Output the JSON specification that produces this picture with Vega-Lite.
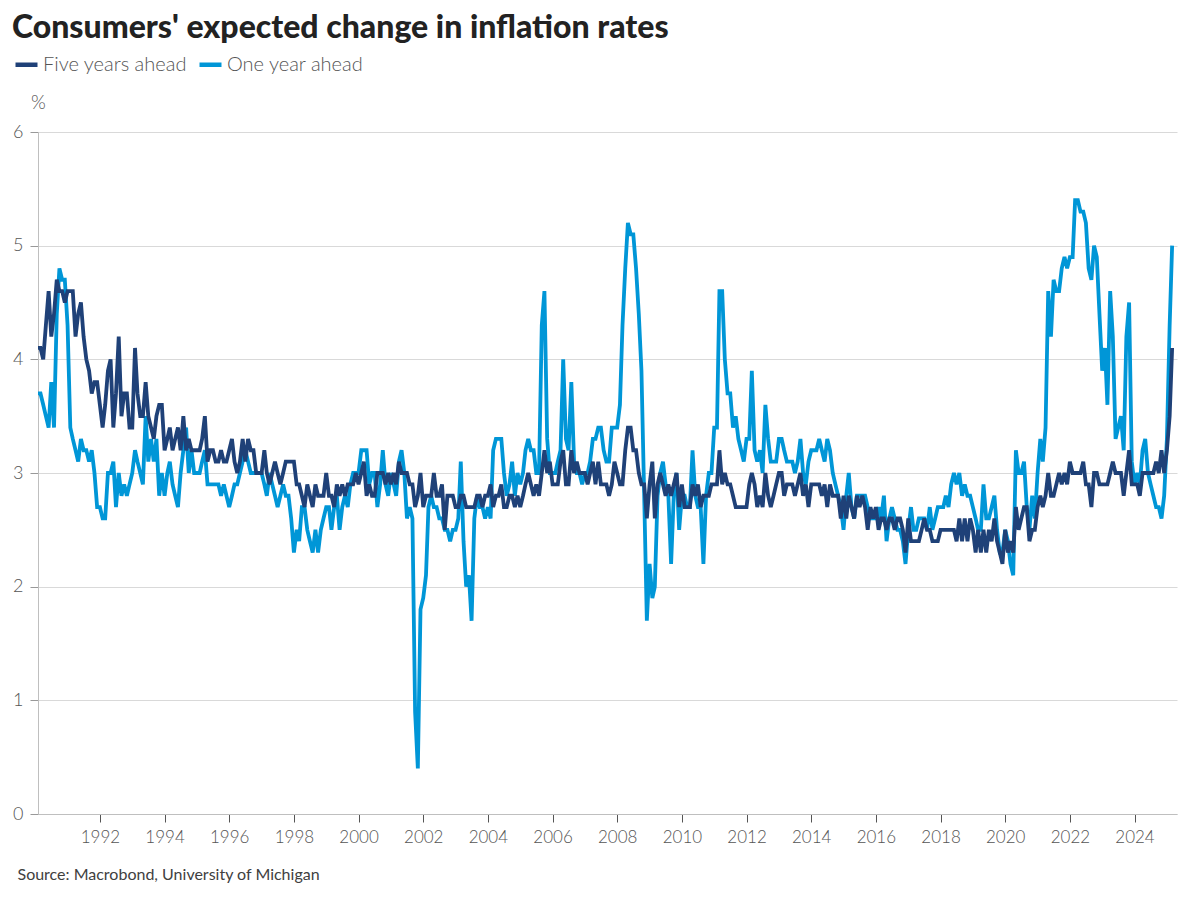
{
"$schema":"https://vega.github.io/schema/vega-lite/v6.json",
"width":1139,"height":682,
"autosize":{"type":"none"},
"padding":{"left":38,"top":132,"right":23,"bottom":86},
"background":"#ffffff",
"title":{"text":"Consumers' expected change in inflation rates","anchor":"start","frame":"group","orient":"top","offset":0,"dx":-26,"dy":19,"font":"Lato","fontSize":32,"fontWeight":900,"color":"#222222","baseline":"alphabetic"},
"datasets":{
"five":[
{"date":"1990-02","value":4.1},{"date":"1990-03","value":4.1},{"date":"1990-04","value":4.0},{"date":"1990-05","value":4.3},{"date":"1990-06","value":4.6},{"date":"1990-07","value":4.2},{"date":"1990-08","value":4.4},{"date":"1990-09","value":4.7},{"date":"1990-10","value":4.6},{"date":"1990-11","value":4.6},{"date":"1990-12","value":4.5},
{"date":"1991-01","value":4.6},{"date":"1991-02","value":4.6},{"date":"1991-03","value":4.6},{"date":"1991-04","value":4.2},{"date":"1991-05","value":4.4},{"date":"1991-06","value":4.5},{"date":"1991-07","value":4.2},{"date":"1991-08","value":4.0},{"date":"1991-09","value":3.9},{"date":"1991-10","value":3.7},{"date":"1991-11","value":3.8},{"date":"1991-12","value":3.8},
{"date":"1992-01","value":3.6},{"date":"1992-02","value":3.4},{"date":"1992-03","value":3.6},{"date":"1992-04","value":3.9},{"date":"1992-05","value":4.0},{"date":"1992-06","value":3.4},{"date":"1992-07","value":3.7},{"date":"1992-08","value":4.2},{"date":"1992-09","value":3.5},{"date":"1992-10","value":3.7},{"date":"1992-11","value":3.7},{"date":"1992-12","value":3.4},
{"date":"1993-01","value":3.4},{"date":"1993-02","value":4.1},{"date":"1993-03","value":3.7},{"date":"1993-04","value":3.5},{"date":"1993-05","value":3.5},{"date":"1993-06","value":3.8},{"date":"1993-07","value":3.5},{"date":"1993-08","value":3.4},{"date":"1993-09","value":3.3},{"date":"1993-10","value":3.5},{"date":"1993-11","value":3.6},{"date":"1993-12","value":3.6},
{"date":"1994-01","value":3.2},{"date":"1994-02","value":3.3},{"date":"1994-03","value":3.4},{"date":"1994-04","value":3.2},{"date":"1994-05","value":3.3},{"date":"1994-06","value":3.4},{"date":"1994-07","value":3.2},{"date":"1994-08","value":3.5},{"date":"1994-09","value":3.2},{"date":"1994-10","value":3.3},{"date":"1994-11","value":3.2},{"date":"1994-12","value":3.2},
{"date":"1995-01","value":3.2},{"date":"1995-02","value":3.2},{"date":"1995-03","value":3.3},{"date":"1995-04","value":3.5},{"date":"1995-05","value":3.1},{"date":"1995-06","value":3.2},{"date":"1995-07","value":3.2},{"date":"1995-08","value":3.1},{"date":"1995-09","value":3.1},{"date":"1995-10","value":3.2},{"date":"1995-11","value":3.1},{"date":"1995-12","value":3.1},
{"date":"1996-01","value":3.2},{"date":"1996-02","value":3.3},{"date":"1996-03","value":3.1},{"date":"1996-04","value":3.0},{"date":"1996-05","value":3.1},{"date":"1996-06","value":3.3},{"date":"1996-07","value":3.1},{"date":"1996-08","value":3.3},{"date":"1996-09","value":3.2},{"date":"1996-10","value":3.2},{"date":"1996-11","value":3.0},{"date":"1996-12","value":3.0},
{"date":"1997-01","value":3.0},{"date":"1997-02","value":3.2},{"date":"1997-03","value":3.0},{"date":"1997-04","value":2.9},{"date":"1997-05","value":3.0},{"date":"1997-06","value":3.1},{"date":"1997-07","value":3.0},{"date":"1997-08","value":2.9},{"date":"1997-09","value":3.0},{"date":"1997-10","value":3.1},{"date":"1997-11","value":3.1},{"date":"1997-12","value":3.1},
{"date":"1998-01","value":3.1},{"date":"1998-02","value":2.9},{"date":"1998-03","value":2.9},{"date":"1998-04","value":2.8},{"date":"1998-05","value":2.7},{"date":"1998-06","value":2.9},{"date":"1998-07","value":2.8},{"date":"1998-08","value":2.7},{"date":"1998-09","value":2.9},{"date":"1998-10","value":2.8},{"date":"1998-11","value":2.8},{"date":"1998-12","value":2.8},
{"date":"1999-01","value":3.0},{"date":"1999-02","value":2.8},{"date":"1999-03","value":2.8},{"date":"1999-04","value":2.7},{"date":"1999-05","value":2.9},{"date":"1999-06","value":2.8},{"date":"1999-07","value":2.9},{"date":"1999-08","value":2.8},{"date":"1999-09","value":2.9},{"date":"1999-10","value":2.9},{"date":"1999-11","value":2.9},{"date":"1999-12","value":3.0},
{"date":"2000-01","value":2.9},{"date":"2000-02","value":3.0},{"date":"2000-03","value":3.1},{"date":"2000-04","value":2.8},{"date":"2000-05","value":2.9},{"date":"2000-06","value":2.8},{"date":"2000-07","value":2.8},{"date":"2000-08","value":3.0},{"date":"2000-09","value":3.0},{"date":"2000-10","value":3.0},{"date":"2000-11","value":2.9},{"date":"2000-12","value":3.0},
{"date":"2001-01","value":2.9},{"date":"2001-02","value":3.0},{"date":"2001-03","value":2.9},{"date":"2001-04","value":3.1},{"date":"2001-05","value":3.0},{"date":"2001-06","value":3.0},{"date":"2001-07","value":3.0},{"date":"2001-08","value":2.9},{"date":"2001-09","value":2.9},{"date":"2001-10","value":2.7},{"date":"2001-11","value":2.8},{"date":"2001-12","value":3.0},
{"date":"2002-01","value":2.7},{"date":"2002-02","value":2.8},{"date":"2002-03","value":2.8},{"date":"2002-04","value":2.8},{"date":"2002-05","value":3.0},{"date":"2002-06","value":2.8},{"date":"2002-07","value":2.8},{"date":"2002-08","value":2.9},{"date":"2002-09","value":2.5},{"date":"2002-10","value":2.8},{"date":"2002-11","value":2.8},{"date":"2002-12","value":2.8},
{"date":"2003-01","value":2.7},{"date":"2003-02","value":2.7},{"date":"2003-03","value":2.8},{"date":"2003-04","value":2.8},{"date":"2003-05","value":2.7},{"date":"2003-06","value":2.7},{"date":"2003-07","value":2.7},{"date":"2003-08","value":2.7},{"date":"2003-09","value":2.8},{"date":"2003-10","value":2.8},{"date":"2003-11","value":2.7},{"date":"2003-12","value":2.8},
{"date":"2004-01","value":2.8},{"date":"2004-02","value":2.9},{"date":"2004-03","value":2.7},{"date":"2004-04","value":2.8},{"date":"2004-05","value":2.8},{"date":"2004-06","value":2.9},{"date":"2004-07","value":2.7},{"date":"2004-08","value":2.7},{"date":"2004-09","value":2.8},{"date":"2004-10","value":2.8},{"date":"2004-11","value":2.7},{"date":"2004-12","value":2.8},
{"date":"2005-01","value":2.7},{"date":"2005-02","value":2.8},{"date":"2005-03","value":2.9},{"date":"2005-04","value":3.0},{"date":"2005-05","value":2.9},{"date":"2005-06","value":2.8},{"date":"2005-07","value":2.9},{"date":"2005-08","value":2.8},{"date":"2005-09","value":3.0},{"date":"2005-10","value":3.2},{"date":"2005-11","value":3.0},{"date":"2005-12","value":3.1},
{"date":"2006-01","value":2.9},{"date":"2006-02","value":2.9},{"date":"2006-03","value":2.9},{"date":"2006-04","value":3.1},{"date":"2006-05","value":3.2},{"date":"2006-06","value":2.9},{"date":"2006-07","value":2.9},{"date":"2006-08","value":3.2},{"date":"2006-09","value":3.0},{"date":"2006-10","value":3.1},{"date":"2006-11","value":3.0},{"date":"2006-12","value":3.0},
{"date":"2007-01","value":3.0},{"date":"2007-02","value":2.9},{"date":"2007-03","value":3.0},{"date":"2007-04","value":3.1},{"date":"2007-05","value":2.9},{"date":"2007-06","value":3.1},{"date":"2007-07","value":2.9},{"date":"2007-08","value":2.9},{"date":"2007-09","value":2.9},{"date":"2007-10","value":2.8},{"date":"2007-11","value":2.9},{"date":"2007-12","value":3.1},
{"date":"2008-01","value":3.0},{"date":"2008-02","value":2.9},{"date":"2008-03","value":2.9},{"date":"2008-04","value":3.2},{"date":"2008-05","value":3.4},{"date":"2008-06","value":3.4},{"date":"2008-07","value":3.2},{"date":"2008-08","value":3.2},{"date":"2008-09","value":3.0},{"date":"2008-10","value":2.9},{"date":"2008-11","value":2.9},{"date":"2008-12","value":2.6},
{"date":"2009-01","value":2.9},{"date":"2009-02","value":3.1},{"date":"2009-03","value":2.6},{"date":"2009-04","value":2.9},{"date":"2009-05","value":3.0},{"date":"2009-06","value":2.9},{"date":"2009-07","value":2.8},{"date":"2009-08","value":2.9},{"date":"2009-09","value":2.8},{"date":"2009-10","value":2.9},{"date":"2009-11","value":3.0},{"date":"2009-12","value":2.7},
{"date":"2010-01","value":2.9},{"date":"2010-02","value":2.7},{"date":"2010-03","value":2.7},{"date":"2010-04","value":2.7},{"date":"2010-05","value":2.9},{"date":"2010-06","value":2.8},{"date":"2010-07","value":2.9},{"date":"2010-08","value":2.7},{"date":"2010-09","value":2.8},{"date":"2010-10","value":2.8},{"date":"2010-11","value":2.8},{"date":"2010-12","value":2.9},
{"date":"2011-01","value":2.9},{"date":"2011-02","value":2.9},{"date":"2011-03","value":3.2},{"date":"2011-04","value":2.9},{"date":"2011-05","value":3.0},{"date":"2011-06","value":2.9},{"date":"2011-07","value":2.9},{"date":"2011-08","value":2.8},{"date":"2011-09","value":2.7},{"date":"2011-10","value":2.7},{"date":"2011-11","value":2.7},{"date":"2011-12","value":2.7},
{"date":"2012-01","value":2.7},{"date":"2012-02","value":2.9},{"date":"2012-03","value":3.0},{"date":"2012-04","value":2.9},{"date":"2012-05","value":2.7},{"date":"2012-06","value":2.8},{"date":"2012-07","value":2.7},{"date":"2012-08","value":3.0},{"date":"2012-09","value":2.8},{"date":"2012-10","value":2.7},{"date":"2012-11","value":2.8},{"date":"2012-12","value":2.9},
{"date":"2013-01","value":3.0},{"date":"2013-02","value":3.0},{"date":"2013-03","value":2.8},{"date":"2013-04","value":2.9},{"date":"2013-05","value":2.9},{"date":"2013-06","value":2.9},{"date":"2013-07","value":2.8},{"date":"2013-08","value":2.9},{"date":"2013-09","value":3.0},{"date":"2013-10","value":2.8},{"date":"2013-11","value":2.9},{"date":"2013-12","value":2.7},
{"date":"2014-01","value":2.9},{"date":"2014-02","value":2.9},{"date":"2014-03","value":2.9},{"date":"2014-04","value":2.9},{"date":"2014-05","value":2.8},{"date":"2014-06","value":2.9},{"date":"2014-07","value":2.7},{"date":"2014-08","value":2.9},{"date":"2014-09","value":2.8},{"date":"2014-10","value":2.8},{"date":"2014-11","value":2.8},{"date":"2014-12","value":2.6},
{"date":"2015-01","value":2.8},{"date":"2015-02","value":2.6},{"date":"2015-03","value":2.8},{"date":"2015-04","value":2.7},{"date":"2015-05","value":2.6},{"date":"2015-06","value":2.8},{"date":"2015-07","value":2.7},{"date":"2015-08","value":2.8},{"date":"2015-09","value":2.7},{"date":"2015-10","value":2.5},{"date":"2015-11","value":2.7},{"date":"2015-12","value":2.6},
{"date":"2016-01","value":2.7},{"date":"2016-02","value":2.5},{"date":"2016-03","value":2.6},{"date":"2016-04","value":2.6},{"date":"2016-05","value":2.5},{"date":"2016-06","value":2.6},{"date":"2016-07","value":2.6},{"date":"2016-08","value":2.5},{"date":"2016-09","value":2.6},{"date":"2016-10","value":2.6},{"date":"2016-11","value":2.5},{"date":"2016-12","value":2.3},
{"date":"2017-01","value":2.6},{"date":"2017-02","value":2.4},{"date":"2017-03","value":2.4},{"date":"2017-04","value":2.4},{"date":"2017-05","value":2.4},{"date":"2017-06","value":2.5},{"date":"2017-07","value":2.6},{"date":"2017-08","value":2.5},{"date":"2017-09","value":2.5},{"date":"2017-10","value":2.4},{"date":"2017-11","value":2.4},{"date":"2017-12","value":2.4},
{"date":"2018-01","value":2.5},{"date":"2018-02","value":2.5},{"date":"2018-03","value":2.5},{"date":"2018-04","value":2.5},{"date":"2018-05","value":2.5},{"date":"2018-06","value":2.5},{"date":"2018-07","value":2.4},{"date":"2018-08","value":2.6},{"date":"2018-09","value":2.4},{"date":"2018-10","value":2.6},{"date":"2018-11","value":2.4},{"date":"2018-12","value":2.6},
{"date":"2019-01","value":2.5},{"date":"2019-02","value":2.3},{"date":"2019-03","value":2.5},{"date":"2019-04","value":2.3},{"date":"2019-05","value":2.5},{"date":"2019-06","value":2.3},{"date":"2019-07","value":2.5},{"date":"2019-08","value":2.4},{"date":"2019-09","value":2.6},{"date":"2019-10","value":2.4},{"date":"2019-11","value":2.3},{"date":"2019-12","value":2.2},
{"date":"2020-01","value":2.5},{"date":"2020-02","value":2.3},{"date":"2020-03","value":2.4},{"date":"2020-04","value":2.3},{"date":"2020-05","value":2.7},{"date":"2020-06","value":2.5},{"date":"2020-07","value":2.6},{"date":"2020-08","value":2.7},{"date":"2020-09","value":2.7},{"date":"2020-10","value":2.4},{"date":"2020-11","value":2.5},{"date":"2020-12","value":2.5},
{"date":"2021-01","value":2.7},{"date":"2021-02","value":2.8},{"date":"2021-03","value":2.7},{"date":"2021-04","value":2.8},{"date":"2021-05","value":3.0},{"date":"2021-06","value":2.8},{"date":"2021-07","value":2.8},{"date":"2021-08","value":2.9},{"date":"2021-09","value":3.0},{"date":"2021-10","value":2.9},{"date":"2021-11","value":3.0},{"date":"2021-12","value":2.9},
{"date":"2022-01","value":3.1},{"date":"2022-02","value":3.0},{"date":"2022-03","value":3.0},{"date":"2022-04","value":3.0},{"date":"2022-05","value":3.0},{"date":"2022-06","value":3.1},{"date":"2022-07","value":2.9},{"date":"2022-08","value":2.9},{"date":"2022-09","value":2.7},{"date":"2022-10","value":3.0},{"date":"2022-11","value":3.0},{"date":"2022-12","value":2.9},
{"date":"2023-01","value":2.9},{"date":"2023-02","value":2.9},{"date":"2023-03","value":2.9},{"date":"2023-04","value":3.0},{"date":"2023-05","value":3.1},{"date":"2023-06","value":3.0},{"date":"2023-07","value":3.0},{"date":"2023-08","value":3.0},{"date":"2023-09","value":2.8},{"date":"2023-10","value":3.0},{"date":"2023-11","value":3.2},{"date":"2023-12","value":2.9},
{"date":"2024-01","value":2.9},{"date":"2024-02","value":2.9},{"date":"2024-03","value":2.8},{"date":"2024-04","value":3.0},{"date":"2024-05","value":3.0},{"date":"2024-06","value":3.0},{"date":"2024-07","value":3.0},{"date":"2024-08","value":3.0},{"date":"2024-09","value":3.1},{"date":"2024-10","value":3.0},{"date":"2024-11","value":3.2},{"date":"2024-12","value":3.0},
{"date":"2025-01","value":3.2},{"date":"2025-02","value":3.5},{"date":"2025-03","value":4.1}
],
"one":[
{"date":"1990-02","value":3.7},{"date":"1990-03","value":3.7},{"date":"1990-04","value":3.6},{"date":"1990-05","value":3.5},{"date":"1990-06","value":3.4},{"date":"1990-07","value":3.8},{"date":"1990-08","value":3.4},{"date":"1990-09","value":4.4},{"date":"1990-10","value":4.8},{"date":"1990-11","value":4.7},{"date":"1990-12","value":4.7},
{"date":"1991-01","value":4.3},{"date":"1991-02","value":3.4},{"date":"1991-03","value":3.3},{"date":"1991-04","value":3.2},{"date":"1991-05","value":3.1},{"date":"1991-06","value":3.3},{"date":"1991-07","value":3.2},{"date":"1991-08","value":3.2},{"date":"1991-09","value":3.1},{"date":"1991-10","value":3.2},{"date":"1991-11","value":3.0},{"date":"1991-12","value":2.7},
{"date":"1992-01","value":2.7},{"date":"1992-02","value":2.6},{"date":"1992-03","value":2.6},{"date":"1992-04","value":3.0},{"date":"1992-05","value":3.0},{"date":"1992-06","value":3.1},{"date":"1992-07","value":2.7},{"date":"1992-08","value":3.0},{"date":"1992-09","value":2.8},{"date":"1992-10","value":2.9},{"date":"1992-11","value":2.8},{"date":"1992-12","value":2.9},
{"date":"1993-01","value":3.0},{"date":"1993-02","value":3.2},{"date":"1993-03","value":3.1},{"date":"1993-04","value":3.0},{"date":"1993-05","value":2.9},{"date":"1993-06","value":3.5},{"date":"1993-07","value":3.1},{"date":"1993-08","value":3.3},{"date":"1993-09","value":3.1},{"date":"1993-10","value":3.3},{"date":"1993-11","value":2.8},{"date":"1993-12","value":3.0},
{"date":"1994-01","value":2.8},{"date":"1994-02","value":3.0},{"date":"1994-03","value":3.1},{"date":"1994-04","value":2.9},{"date":"1994-05","value":2.8},{"date":"1994-06","value":2.7},{"date":"1994-07","value":3.0},{"date":"1994-08","value":3.2},{"date":"1994-09","value":3.4},{"date":"1994-10","value":3.0},{"date":"1994-11","value":3.2},{"date":"1994-12","value":3.0},
{"date":"1995-01","value":3.0},{"date":"1995-02","value":3.0},{"date":"1995-03","value":3.1},{"date":"1995-04","value":3.2},{"date":"1995-05","value":2.9},{"date":"1995-06","value":2.9},{"date":"1995-07","value":2.9},{"date":"1995-08","value":2.9},{"date":"1995-09","value":2.9},{"date":"1995-10","value":2.8},{"date":"1995-11","value":2.9},{"date":"1995-12","value":2.8},
{"date":"1996-01","value":2.7},{"date":"1996-02","value":2.8},{"date":"1996-03","value":2.9},{"date":"1996-04","value":2.9},{"date":"1996-05","value":3.0},{"date":"1996-06","value":3.1},{"date":"1996-07","value":3.2},{"date":"1996-08","value":3.1},{"date":"1996-09","value":3.0},{"date":"1996-10","value":3.0},{"date":"1996-11","value":3.0},{"date":"1996-12","value":3.0},
{"date":"1997-01","value":3.0},{"date":"1997-02","value":2.9},{"date":"1997-03","value":2.8},{"date":"1997-04","value":3.0},{"date":"1997-05","value":2.9},{"date":"1997-06","value":2.8},{"date":"1997-07","value":2.7},{"date":"1997-08","value":2.8},{"date":"1997-09","value":2.9},{"date":"1997-10","value":2.8},{"date":"1997-11","value":2.8},{"date":"1997-12","value":2.6},
{"date":"1998-01","value":2.3},{"date":"1998-02","value":2.5},{"date":"1998-03","value":2.4},{"date":"1998-04","value":2.7},{"date":"1998-05","value":2.7},{"date":"1998-06","value":2.5},{"date":"1998-07","value":2.4},{"date":"1998-08","value":2.3},{"date":"1998-09","value":2.5},{"date":"1998-10","value":2.3},{"date":"1998-11","value":2.5},{"date":"1998-12","value":2.6},
{"date":"1999-01","value":2.7},{"date":"1999-02","value":2.7},{"date":"1999-03","value":2.5},{"date":"1999-04","value":2.7},{"date":"1999-05","value":2.8},{"date":"1999-06","value":2.5},{"date":"1999-07","value":2.7},{"date":"1999-08","value":2.8},{"date":"1999-09","value":2.7},{"date":"1999-10","value":2.9},{"date":"1999-11","value":3.0},{"date":"1999-12","value":3.0},
{"date":"2000-01","value":3.0},{"date":"2000-02","value":3.2},{"date":"2000-03","value":3.2},{"date":"2000-04","value":3.2},{"date":"2000-05","value":2.9},{"date":"2000-06","value":3.0},{"date":"2000-07","value":3.0},{"date":"2000-08","value":2.7},{"date":"2000-09","value":2.9},{"date":"2000-10","value":3.2},{"date":"2000-11","value":2.9},{"date":"2000-12","value":2.8},
{"date":"2001-01","value":3.0},{"date":"2001-02","value":2.9},{"date":"2001-03","value":2.8},{"date":"2001-04","value":3.1},{"date":"2001-05","value":3.2},{"date":"2001-06","value":3.0},{"date":"2001-07","value":2.6},{"date":"2001-08","value":2.7},{"date":"2001-09","value":2.6},{"date":"2001-10","value":0.9},{"date":"2001-11","value":0.4},{"date":"2001-12","value":1.8},
{"date":"2002-01","value":1.9},{"date":"2002-02","value":2.1},{"date":"2002-03","value":2.7},{"date":"2002-04","value":2.8},{"date":"2002-05","value":2.7},{"date":"2002-06","value":2.7},{"date":"2002-07","value":2.6},{"date":"2002-08","value":2.6},{"date":"2002-09","value":2.5},{"date":"2002-10","value":2.5},{"date":"2002-11","value":2.4},{"date":"2002-12","value":2.5},
{"date":"2003-01","value":2.5},{"date":"2003-02","value":2.6},{"date":"2003-03","value":3.1},{"date":"2003-04","value":2.4},{"date":"2003-05","value":2.0},{"date":"2003-06","value":2.1},{"date":"2003-07","value":1.7},{"date":"2003-08","value":2.6},{"date":"2003-09","value":2.8},{"date":"2003-10","value":2.7},{"date":"2003-11","value":2.7},{"date":"2003-12","value":2.6},
{"date":"2004-01","value":2.7},{"date":"2004-02","value":2.6},{"date":"2004-03","value":3.2},{"date":"2004-04","value":3.3},{"date":"2004-05","value":3.3},{"date":"2004-06","value":3.3},{"date":"2004-07","value":3.0},{"date":"2004-08","value":2.8},{"date":"2004-09","value":2.9},{"date":"2004-10","value":3.1},{"date":"2004-11","value":2.8},{"date":"2004-12","value":3.0},
{"date":"2005-01","value":2.9},{"date":"2005-02","value":3.0},{"date":"2005-03","value":3.2},{"date":"2005-04","value":3.3},{"date":"2005-05","value":3.2},{"date":"2005-06","value":3.2},{"date":"2005-07","value":3.0},{"date":"2005-08","value":3.0},{"date":"2005-09","value":4.3},{"date":"2005-10","value":4.6},{"date":"2005-11","value":3.3},{"date":"2005-12","value":3.0},
{"date":"2006-01","value":3.0},{"date":"2006-02","value":3.0},{"date":"2006-03","value":3.1},{"date":"2006-04","value":3.2},{"date":"2006-05","value":4.0},{"date":"2006-06","value":3.3},{"date":"2006-07","value":3.2},{"date":"2006-08","value":3.8},{"date":"2006-09","value":3.1},{"date":"2006-10","value":3.0},{"date":"2006-11","value":3.0},{"date":"2006-12","value":2.9},
{"date":"2007-01","value":3.0},{"date":"2007-02","value":3.0},{"date":"2007-03","value":3.1},{"date":"2007-04","value":3.3},{"date":"2007-05","value":3.3},{"date":"2007-06","value":3.4},{"date":"2007-07","value":3.4},{"date":"2007-08","value":3.2},{"date":"2007-09","value":3.1},{"date":"2007-10","value":3.1},{"date":"2007-11","value":3.4},{"date":"2007-12","value":3.4},
{"date":"2008-01","value":3.4},{"date":"2008-02","value":3.6},{"date":"2008-03","value":4.3},{"date":"2008-04","value":4.8},{"date":"2008-05","value":5.2},{"date":"2008-06","value":5.1},{"date":"2008-07","value":5.1},{"date":"2008-08","value":4.8},{"date":"2008-09","value":4.4},{"date":"2008-10","value":3.9},{"date":"2008-11","value":2.8},{"date":"2008-12","value":1.7},
{"date":"2009-01","value":2.2},{"date":"2009-02","value":1.9},{"date":"2009-03","value":2.0},{"date":"2009-04","value":2.8},{"date":"2009-05","value":3.0},{"date":"2009-06","value":3.1},{"date":"2009-07","value":2.9},{"date":"2009-08","value":2.8},{"date":"2009-09","value":2.2},{"date":"2009-10","value":2.8},{"date":"2009-11","value":3.0},{"date":"2009-12","value":2.5},
{"date":"2010-01","value":2.8},{"date":"2010-02","value":2.8},{"date":"2010-03","value":2.7},{"date":"2010-04","value":2.7},{"date":"2010-05","value":3.2},{"date":"2010-06","value":2.8},{"date":"2010-07","value":2.7},{"date":"2010-08","value":2.7},{"date":"2010-09","value":2.2},{"date":"2010-10","value":2.8},{"date":"2010-11","value":3.0},{"date":"2010-12","value":3.0},
{"date":"2011-01","value":3.4},{"date":"2011-02","value":3.4},{"date":"2011-03","value":4.6},{"date":"2011-04","value":4.6},{"date":"2011-05","value":4.0},{"date":"2011-06","value":3.7},{"date":"2011-07","value":3.7},{"date":"2011-08","value":3.4},{"date":"2011-09","value":3.5},{"date":"2011-10","value":3.3},{"date":"2011-11","value":3.2},{"date":"2011-12","value":3.1},
{"date":"2012-01","value":3.3},{"date":"2012-02","value":3.3},{"date":"2012-03","value":3.9},{"date":"2012-04","value":3.2},{"date":"2012-05","value":3.1},{"date":"2012-06","value":3.2},{"date":"2012-07","value":3.0},{"date":"2012-08","value":3.6},{"date":"2012-09","value":3.3},{"date":"2012-10","value":3.1},{"date":"2012-11","value":3.1},{"date":"2012-12","value":3.1},
{"date":"2013-01","value":3.3},{"date":"2013-02","value":3.3},{"date":"2013-03","value":3.2},{"date":"2013-04","value":3.1},{"date":"2013-05","value":3.1},{"date":"2013-06","value":3.1},{"date":"2013-07","value":3.0},{"date":"2013-08","value":3.1},{"date":"2013-09","value":3.3},{"date":"2013-10","value":3.0},{"date":"2013-11","value":2.9},{"date":"2013-12","value":3.1},
{"date":"2014-01","value":3.2},{"date":"2014-02","value":3.2},{"date":"2014-03","value":3.2},{"date":"2014-04","value":3.3},{"date":"2014-05","value":3.2},{"date":"2014-06","value":3.1},{"date":"2014-07","value":3.3},{"date":"2014-08","value":3.2},{"date":"2014-09","value":3.0},{"date":"2014-10","value":2.9},{"date":"2014-11","value":2.8},{"date":"2014-12","value":2.7},
{"date":"2015-01","value":2.5},{"date":"2015-02","value":2.8},{"date":"2015-03","value":3.0},{"date":"2015-04","value":2.7},{"date":"2015-05","value":2.6},{"date":"2015-06","value":2.8},{"date":"2015-07","value":2.8},{"date":"2015-08","value":2.8},{"date":"2015-09","value":2.8},{"date":"2015-10","value":2.7},{"date":"2015-11","value":2.6},{"date":"2015-12","value":2.6},
{"date":"2016-01","value":2.6},{"date":"2016-02","value":2.7},{"date":"2016-03","value":2.6},{"date":"2016-04","value":2.8},{"date":"2016-05","value":2.4},{"date":"2016-06","value":2.6},{"date":"2016-07","value":2.7},{"date":"2016-08","value":2.6},{"date":"2016-09","value":2.5},{"date":"2016-10","value":2.5},{"date":"2016-11","value":2.4},{"date":"2016-12","value":2.2},
{"date":"2017-01","value":2.5},{"date":"2017-02","value":2.7},{"date":"2017-03","value":2.5},{"date":"2017-04","value":2.5},{"date":"2017-05","value":2.6},{"date":"2017-06","value":2.6},{"date":"2017-07","value":2.6},{"date":"2017-08","value":2.5},{"date":"2017-09","value":2.7},{"date":"2017-10","value":2.5},{"date":"2017-11","value":2.6},{"date":"2017-12","value":2.7},
{"date":"2018-01","value":2.7},{"date":"2018-02","value":2.7},{"date":"2018-03","value":2.8},{"date":"2018-04","value":2.7},{"date":"2018-05","value":2.9},{"date":"2018-06","value":3.0},{"date":"2018-07","value":2.9},{"date":"2018-08","value":3.0},{"date":"2018-09","value":2.8},{"date":"2018-10","value":2.9},{"date":"2018-11","value":2.8},{"date":"2018-12","value":2.8},
{"date":"2019-01","value":2.7},{"date":"2019-02","value":2.6},{"date":"2019-03","value":2.5},{"date":"2019-04","value":2.5},{"date":"2019-05","value":2.9},{"date":"2019-06","value":2.6},{"date":"2019-07","value":2.6},{"date":"2019-08","value":2.7},{"date":"2019-09","value":2.8},{"date":"2019-10","value":2.5},{"date":"2019-11","value":2.3},{"date":"2019-12","value":2.3},
{"date":"2020-01","value":2.5},{"date":"2020-02","value":2.4},{"date":"2020-03","value":2.2},{"date":"2020-04","value":2.1},{"date":"2020-05","value":3.2},{"date":"2020-06","value":3.0},{"date":"2020-07","value":3.0},{"date":"2020-08","value":3.1},{"date":"2020-09","value":2.7},{"date":"2020-10","value":2.5},{"date":"2020-11","value":2.8},{"date":"2020-12","value":2.6},
{"date":"2021-01","value":3.0},{"date":"2021-02","value":3.3},{"date":"2021-03","value":3.1},{"date":"2021-04","value":3.4},{"date":"2021-05","value":4.6},{"date":"2021-06","value":4.2},{"date":"2021-07","value":4.7},{"date":"2021-08","value":4.6},{"date":"2021-09","value":4.6},{"date":"2021-10","value":4.8},{"date":"2021-11","value":4.9},{"date":"2021-12","value":4.8},
{"date":"2022-01","value":4.9},{"date":"2022-02","value":4.9},{"date":"2022-03","value":5.4},{"date":"2022-04","value":5.4},{"date":"2022-05","value":5.3},{"date":"2022-06","value":5.3},{"date":"2022-07","value":5.2},{"date":"2022-08","value":4.8},{"date":"2022-09","value":4.7},{"date":"2022-10","value":5.0},{"date":"2022-11","value":4.9},{"date":"2022-12","value":4.4},
{"date":"2023-01","value":3.9},{"date":"2023-02","value":4.1},{"date":"2023-03","value":3.6},{"date":"2023-04","value":4.6},{"date":"2023-05","value":4.2},{"date":"2023-06","value":3.3},{"date":"2023-07","value":3.4},{"date":"2023-08","value":3.5},{"date":"2023-09","value":3.2},{"date":"2023-10","value":4.2},{"date":"2023-11","value":4.5},{"date":"2023-12","value":3.1},
{"date":"2024-01","value":2.9},{"date":"2024-02","value":3.0},{"date":"2024-03","value":2.9},{"date":"2024-04","value":3.2},{"date":"2024-05","value":3.3},{"date":"2024-06","value":3.0},{"date":"2024-07","value":2.9},{"date":"2024-08","value":2.8},{"date":"2024-09","value":2.7},{"date":"2024-10","value":2.7},{"date":"2024-11","value":2.6},{"date":"2024-12","value":2.8},
{"date":"2025-01","value":3.3},{"date":"2025-02","value":4.3},{"date":"2025-03","value":5.0}
]
},
"encoding":{
"x":{"field":"date","type":"temporal",
"scale":{"type":"utc","domain":[{"year":1990,"month":2,"date":1,"utc":true},{"year":2025,"month":4,"date":25,"utc":true}]},
"axis":{"format":"%Y","tickCount":{"interval":"year","step":2},"grid":false,"domainColor":"#bfbfbf","domainWidth":1,"tickColor":"#555555","tickSize":8,"tickWidth":1,"labelFont":"Lato","labelFontSize":17,"labelFontWeight":300,"labelColor":"#555555","labelPadding":7,"labelFlush":false,"labelOverlap":false,
"title":"Source: Macrobond, University of Michigan","titleX":-21,"titleY":65,"titleAlign":"left","titleAnchor":"start","titleBaseline":"alphabetic","titleFont":"Lato","titleFontSize":16,"titleFontWeight":400,"titleColor":"#404040"}},
"y":{"field":"value","type":"quantitative",
"scale":{"domain":[0,6],"nice":false},
"axis":{"values":[0,1,2,3,4,5,6],"grid":true,"gridColor":"#d9d9d9","gridWidth":1,"domainColor":"#bfbfbf","domainWidth":1,"tickColor":"#999999","tickSize":8,"tickWidth":1,"labelFont":"Lato","labelFontSize":18,"labelFontWeight":300,"labelColor":"#555555","labelPadding":7,
"title":"%","titleAngle":0,"titleX":0,"titleY":-24,"titleAlign":"center","titleBaseline":"alphabetic","titleFont":"Lato","titleFontSize":19,"titleFontWeight":300,"titleColor":"#555555"}},
"color":{"type":"nominal","scale":{"domain":["Five years ahead","One year ahead"],"range":["#1f4178","#0096d7"]},
"legend":{"orient":"none","legendX":-25,"legendY":-81,"direction":"horizontal","title":null,"symbolType":"stroke","symbolSize":484,"symbolStrokeWidth":4.5,"labelFont":"Lato","labelFontSize":20,"labelFontWeight":300,"labelColor":"#555555","labelOffset":3,"columnPadding":3,"padding":0}}
},
"layer":[
{"data":{"name":"one"},"mark":{"type":"line","strokeWidth":3.8},"encoding":{"color":{"datum":"One year ahead"}}},
{"data":{"name":"five"},"mark":{"type":"line","strokeWidth":3.8},"encoding":{"color":{"datum":"Five years ahead"}}}
],
"config":{"view":{"stroke":null},"font":"Lato"}
}
